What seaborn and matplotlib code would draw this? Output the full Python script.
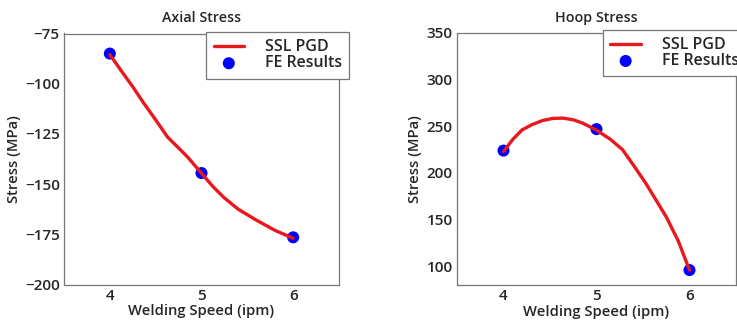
import matplotlib
matplotlib.use("Agg")
import matplotlib.pyplot as plt
import seaborn as sns

# FE results at the three welding speeds
speeds = [4, 5, 6]
axial_fe = [-85, -144.5, -176.5]
hoop_fe = [224, 247, 96]

# SSL PGD curves
axial_x = [4.0, 4.12, 4.25, 4.37, 4.5, 4.63, 4.75, 4.85, 5.0, 5.12, 5.24, 5.4, 5.6, 5.8, 6.0]
axial_pgd = [-85.5, -93.3, -101.5, -109.7, -118, -126.6, -132, -136.6, -144.6, -151, -156.5, -162.5, -168, -173, -177]
hoop_x = [4.0, 4.1, 4.2, 4.31, 4.42, 4.53, 4.64, 4.75, 4.85, 5.0, 5.15, 5.28, 5.4, 5.53, 5.64, 5.75, 5.88, 6.0]
hoop_pgd = [223, 236, 246.2, 252, 256.2, 258.5, 258.8, 257, 253.5, 246, 236, 225, 208, 189, 171, 153, 127, 96]

sns.set_style("white")
plt.rcParams['font.family'] = ['Open Sans', 'DejaVu Sans']
plt.rcParams['font.weight'] = 'semibold'
plt.rcParams['axes.labelweight'] = 'semibold'
plt.rcParams['axes.titleweight'] = 'semibold'
plt.rcParams['font.size'] = 10

fig = plt.figure(figsize=(7.37, 3.23), dpi=100)
W, H = 737, 323
ax1 = fig.add_axes([64 / W, 1 - 284.5 / H, 275 / W, 251 / H])
ax2 = fig.add_axes([457 / W, 1 - 285 / H, 279 / W, 252 / H])

panels = [
    (ax1, axial_x, axial_pgd, axial_fe, "Axial Stress", (-200, -75), [-200, -175, -150, -125, -100, -75], (1.036, 1.005)),
    (ax2, hoop_x, hoop_pgd, hoop_fe, "Hoop Stress", (80, 350), [100, 150, 200, 250, 300, 350], (1.035, 1.012)),
]

for ax, cx, cy, fe, title, ylim, yticks, anchor in panels:
    sns.scatterplot(x=speeds, y=fe, ax=ax, color="#0000ff", s=75, edgecolor="none",
                    label="FE Results", zorder=2)
    sns.lineplot(x=cx, y=cy, ax=ax, color="#e8181c", linewidth=2.4, label="SSL PGD",
                 sort=False, zorder=3)
    ax.set_xlim(3.5, 6.5)
    ax.set_ylim(*ylim)
    ax.set_xticks(speeds)
    ax.set_yticks(yticks)
    ax.set_title(title, fontsize=10.3, pad=8)
    ax.set_xlabel("Welding Speed (ipm)", fontsize=10.6, labelpad=1)
    ax.set_ylabel("Stress (MPa)", fontsize=10.6, labelpad=3)
    ax.tick_params(axis="both", labelsize=11, length=2, direction="in", color="#999999", pad=3)
    for lab in ax.get_xticklabels() + ax.get_yticklabels():
        lab.set_fontweight("semibold")
    for s in ax.spines.values():
        s.set_color("#777777")
        s.set_linewidth(0.9)
    handles, labels = ax.get_legend_handles_labels()
    order = [labels.index("SSL PGD"), labels.index("FE Results")]
    leg = ax.legend([handles[i] for i in order], [labels[i] for i in order],
                    loc="upper right", bbox_to_anchor=anchor, fancybox=False,
                    framealpha=1, edgecolor="#777777", fontsize=11.5,
                    handlelength=1.9, borderpad=0.45, labelspacing=0.0,
                    handletextpad=1.3, borderaxespad=0)
    leg.get_frame().set_linewidth(0.9)

fig.savefig("out.png", dpi=100)
plt.close(fig)
